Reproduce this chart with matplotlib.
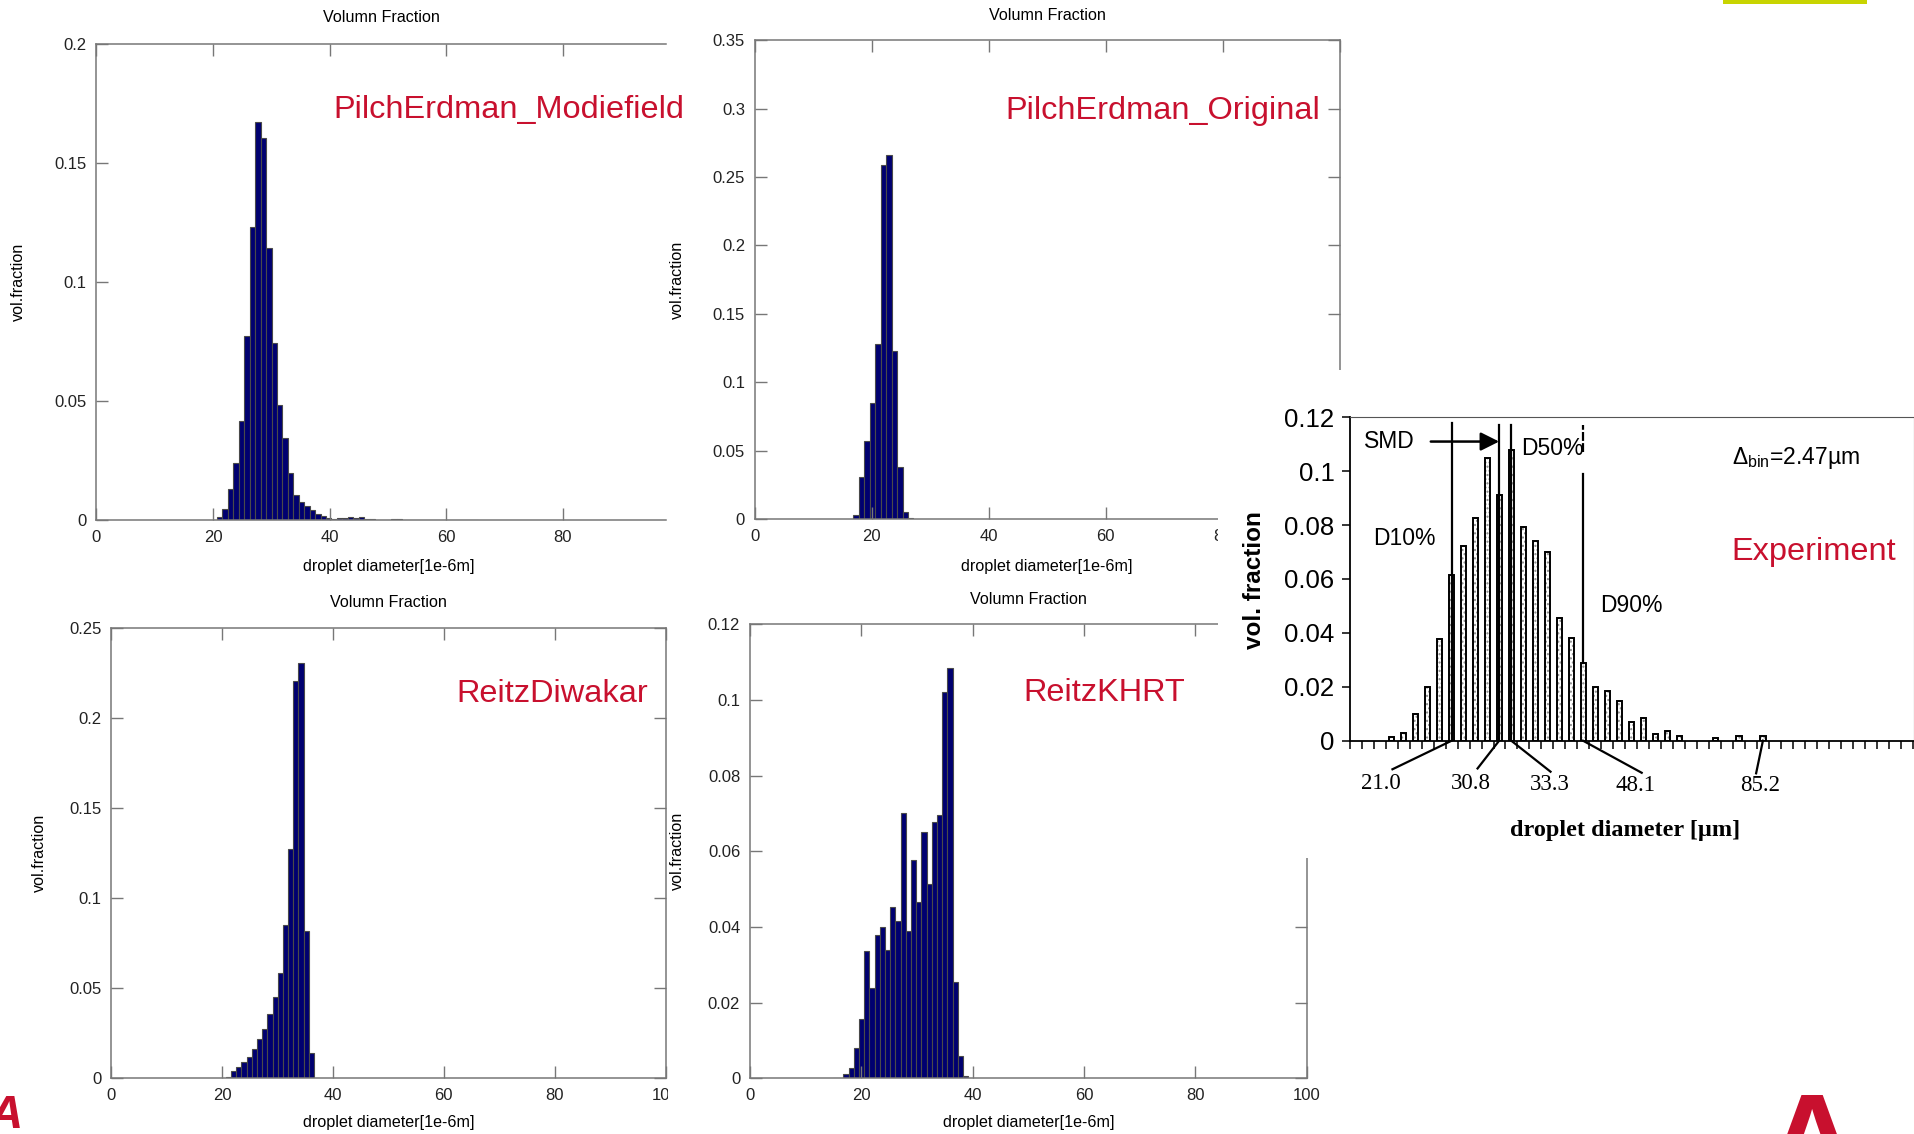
import numpy as np
import matplotlib
matplotlib.use("Agg")
import matplotlib.pyplot as plt
from matplotlib.patches import Rectangle

plt.rcParams['font.family'] = ['Liberation Sans', 'DejaVu Sans']
plt.rcParams['mathtext.fontset'] = 'custom'
plt.rcParams['mathtext.rm'] = 'Liberation Sans'
plt.rcParams['mathtext.it'] = 'Liberation Sans:italic'
plt.rcParams['hatch.linewidth'] = 1.0

W, H = 1915, 1134

# ---- simulation histograms (droplet diameter in 1e-6 m, vol. fraction) ----
diam_step = 0.934

pe_mod_start = 21.14
pe_mod_frac = [0.0014, 0.0049, 0.0132, 0.0239, 0.0419, 0.0774, 0.1230, 0.1673,
               0.1607, 0.1142, 0.0746, 0.0484, 0.0344, 0.0199, 0.0108, 0.0077,
               0.0059, 0.0045, 0.0028, 0.0017, 0.0011, 0.0006, 0.0008, 0.0011,
               0.0014, 0.0011, 0.0014, 0.0006, 0.0006, 0.0003, 0.0003, 0.0,
               0.0006, 0.0006, 0.0003, 0.0003, 0.0003, 0.0003, 0.0003, 0.0003,
               0.0, 0.0, 0.0, 0.0, 0.0, 0.0003, 0.0003, 0.0003]

pe_org_start = 17.31
pe_org_frac = [0.0029, 0.0309, 0.0573, 0.0846, 0.1279, 0.2588, 0.2661, 0.1231,
               0.0378, 0.0054, 0.0005]

rd_start = 21.17
rd_frac = [0.0007, 0.0043, 0.0065, 0.0092, 0.0118, 0.0161, 0.0218, 0.0272,
           0.0357, 0.0453, 0.0582, 0.0852, 0.1274, 0.2206, 0.2304, 0.0819,
           0.0142, 0.0004]

khrt_start = 15.4
khrt_frac = [0.0002, 0.0, 0.0011, 0.0028, 0.0079, 0.0156, 0.0336, 0.0240,
             0.0380, 0.0401, 0.0338, 0.0453, 0.0417, 0.0702, 0.0389, 0.0576,
             0.0466, 0.0651, 0.0514, 0.0676, 0.0697, 0.1021, 0.1085, 0.0254,
             0.0059, 0.0006]

# ---- experiment (bins of 2.47 um) ----
exp_bin_w = 2.47
exp_bins = [3, 4, 5, 6, 7, 8, 9, 10, 11, 12, 13, 14, 15, 16, 17, 18, 19, 20,
            21, 22, 23, 24, 25, 26, 27, 30, 32, 34]
exp_frac = [0.0012, 0.0027, 0.0099, 0.0200, 0.0376, 0.0615, 0.0724, 0.0825,
            0.1048, 0.0912, 0.1079, 0.0794, 0.0742, 0.0700, 0.0456, 0.0382,
            0.0287, 0.0200, 0.0186, 0.0148, 0.0069, 0.0083, 0.0025, 0.0037,
            0.0017, 0.0011, 0.0017, 0.0017]
d10, smd, d50, d90, dmax = 21.0, 30.8, 33.3, 48.1, 85.2

red = '#C8102E'
navy = '#000070'
grey = '#777777'
small = 11.6

fig = plt.figure(figsize=(W / 100, H / 100), dpi=100)
fig.patch.set_facecolor('white')


def px_axes(l, t, r, b, z):
    return fig.add_axes([l / W, 1 - b / H, (r - l) / W, (b - t) / H], zorder=z)


def hist_panel(rect, start, vals, xmax, ymax, ystep, title_pad, xlab, ylab,
               label, label_xy, right=True, z=0):
    ax = px_axes(*rect, z)
    x = start + diam_step * np.arange(len(vals))
    ax.bar(x, vals, width=diam_step, color=navy, edgecolor='#4a4a4a', linewidth=0.8)
    ax.set_xticks(np.arange(0, 101, 20))
    ax.set_xlim(0, xmax)
    ax.set_ylim(0, ymax)
    yt = np.arange(0, ymax + 1e-9, ystep)
    ax.set_yticks(yt)
    ax.set_yticklabels(['%g' % round(v, 3) for v in yt])
    ax.tick_params(direction='in', length=8.5, width=1, color=grey, top=True,
                   right=right, labelsize=12, pad=7, labelcolor='#222222')
    for s in ax.spines.values():
        s.set_color(grey)
        s.set_linewidth(1.1)
    if not right:
        ax.spines['right'].set_visible(False)
    ax.set_title('Volumn Fraction', fontsize=small, pad=title_pad)
    ax.set_xlabel('droplet diameter[1e-6m]', fontsize=small, va='center')
    ax.xaxis.set_label_coords(xlab[0] / W, 1 - xlab[1] / H, transform=fig.transFigure)
    ax.set_ylabel('vol.fraction', fontsize=small, va='center')
    ax.yaxis.set_label_coords(ylab[0] / W, 1 - ylab[1] / H, transform=fig.transFigure)
    fig.text(label_xy[0] / W, 1 - label_xy[1] / H, label, color=red, fontsize=23.4,
             ha='left', va='center', zorder=3)
    return ax


hist_panel((96.5, 44.0, 665.6, 520.3), pe_mod_start, pe_mod_frac, 97.6, 0.2, 0.05,
           15.5, (388.4, 566.7), (18.3, 282), 'PilchErdman_Modiefield',
           (333.4, 110), right=False, z=0)
hist_panel((754.8, 40.3, 1339.8, 519.0), pe_org_start, pe_org_frac, 100, 0.35, 0.05,
           14.8, (1046.6, 566.7), (677.8, 279.7), 'PilchErdman_Original',
           (1005, 111.5), z=1)
hist_panel((111.1, 627.7, 665.6, 1078.4), rd_start, rd_frac, 100, 0.25, 0.05,
           14.6, (388.4, 1122.4), (39.1, 852.5), 'ReitzDiwakar',
           (456.8, 694), z=0)
hist_panel((749.9, 624.1, 1306.8, 1078.4), khrt_start, khrt_frac, 100, 0.12, 0.02,
           14.8, (1028.3, 1122.4), (677.8, 851.2), 'ReitzKHRT',
           (1023.4, 693), z=1)

# white backgrounds of the pasted pictures
fig.add_artist(Rectangle((667.5 / W, 0), (740 - 667.5) / W, (1134 - 1082) / H,
                         transform=fig.transFigure, facecolor='white',
                         edgecolor='none', zorder=0.5))
fig.add_artist(Rectangle((1218 / W, 1 - 858 / H), (W - 1218) / W, (858 - 370) / H,
                         transform=fig.transFigure, facecolor='white',
                         edgecolor='none', zorder=1.5))

# ---- experiment panel ----
ax5 = px_axes(1349.8, 417.3, 1913.7, 740.7, 2)
xc = (np.array(exp_bins) + 0.5) * exp_bin_w
ax5.bar(xc, exp_frac, width=1.05, color='white', edgecolor='#8a8a8a', hatch='....',
        linewidth=0)
ax5.bar(xc, exp_frac, width=1.05, fill=False, edgecolor='black', linewidth=1.4)
ax5.set_xlim(0, 116.3)
ax5.set_ylim(0, 0.12)
ax5.set_xticks(np.arange(0, 116.3, exp_bin_w))
ax5.set_xticklabels([])
yt = np.arange(0, 0.1201, 0.02)
ax5.set_yticks(yt)
ax5.set_yticklabels(['%g' % round(v, 3) for v in yt])
ax5.tick_params(axis='x', direction='out', length=5.5, width=1.1, color='black')
ax5.tick_params(axis='y', direction='out', length=6, width=1.1, color='black',
                labelsize=18.5, pad=5)
ax5.spines['left'].set_linewidth(1.3)
ax5.spines['bottom'].set_linewidth(1.3)
ax5.spines['top'].set_linewidth(0.8)
ax5.spines['top'].set_color('#555555')
ax5.spines['right'].set_linewidth(0.8)
ax5.spines['right'].set_color('#555555')

ax5.set_ylabel('vol. fraction', fontsize=17.5, fontweight='bold', va='center')
ax5.yaxis.set_label_coords(1254.3 / W, 1 - 580 / H, transform=fig.transFigure)
ax5.set_xlabel('droplet diameter [µm]', fontsize=17.5, fontweight='bold',
               family='Liberation Serif', va='center')
ax5.xaxis.set_label_coords(1625.5 / W, 1 - 830.5 / H, transform=fig.transFigure)

lk = dict(color='black', lw=1.6, zorder=4)
ax5.plot([d10, d10], [0, 0.118], **lk)
ax5.plot([smd, smd], [0, 0.117], **lk)
ax5.plot([d50, d50], [0, 0.117], **lk)
ax5.plot([d90, d90], [0.029, 0.099], **lk)
ax5.plot([d90, d90], [0.107, 0.117], color='black', lw=1.6, ls=(0, (4, 1)), zorder=4)
ax5.annotate('', xy=(smd, 0.111), xytext=(16.7, 0.111),
             arrowprops=dict(arrowstyle='-|>', lw=1.8, color='black',
                             mutation_scale=28, shrinkA=0, shrinkB=0), zorder=5)

tk = dict(fontsize=16.5, color='black', va='center')
ax5.text(8.1, 0.111, 'SMD', ha='center', **tk)
ax5.text(35.4, 0.1085, 'D50%', ha='left', **tk)
ax5.text(11.3, 0.0751, 'D10%', ha='center', **tk)
ax5.text(58.1, 0.0501, 'D90%', ha='center', **tk)
ax5.text(78.9, 0.1048, r'$\Delta_{\mathrm{bin}}$=2.47µm', ha='left', **tk)
ax5.text(78.6, 0.0702, 'Experiment', color=red, fontsize=23.4, ha='left', va='center')

# leader lines to the marked diameters below the axis
leaders = [(d10, 8.8, -0.0106, 6.5, -0.0158),
           (smd, 26.35, -0.0103, 24.9, -0.0158),
           (d50, 41.4, -0.0115, 41.3, -0.0161),
           (d90, 60.2, -0.0119, 58.9, -0.01645),
           (dmax, 83.8, -0.0121, 84.6, -0.0168)]
for d, lx, ly, tx, ty in leaders:
    ax5.plot([d, lx], [0, ly], color='black', lw=1.6, clip_on=False)
    ax5.text(tx, ty, '%.1f' % d, family='Liberation Serif', fontsize=16.5,
             ha='center', va='center', clip_on=False)

# slide decorations
fig.add_artist(Rectangle((1723 / W, 1 - 3.5 / H), (1867 - 1723) / W, 3.5 / H,
                         transform=fig.transFigure, facecolor='#C8D400',
                         edgecolor='none', zorder=3))
fig.text(24 / W, 1 - 1094 / H, '/A', color=red, fontsize=34, fontweight='bold',
         style='italic', ha='right', va='top', zorder=3)
fig.text(1812 / W, 1 - 1091 / H, 'A', color=red, fontsize=90, fontweight='bold',
         ha='center', va='top', zorder=3)

fig.savefig('out.png', dpi=100)
